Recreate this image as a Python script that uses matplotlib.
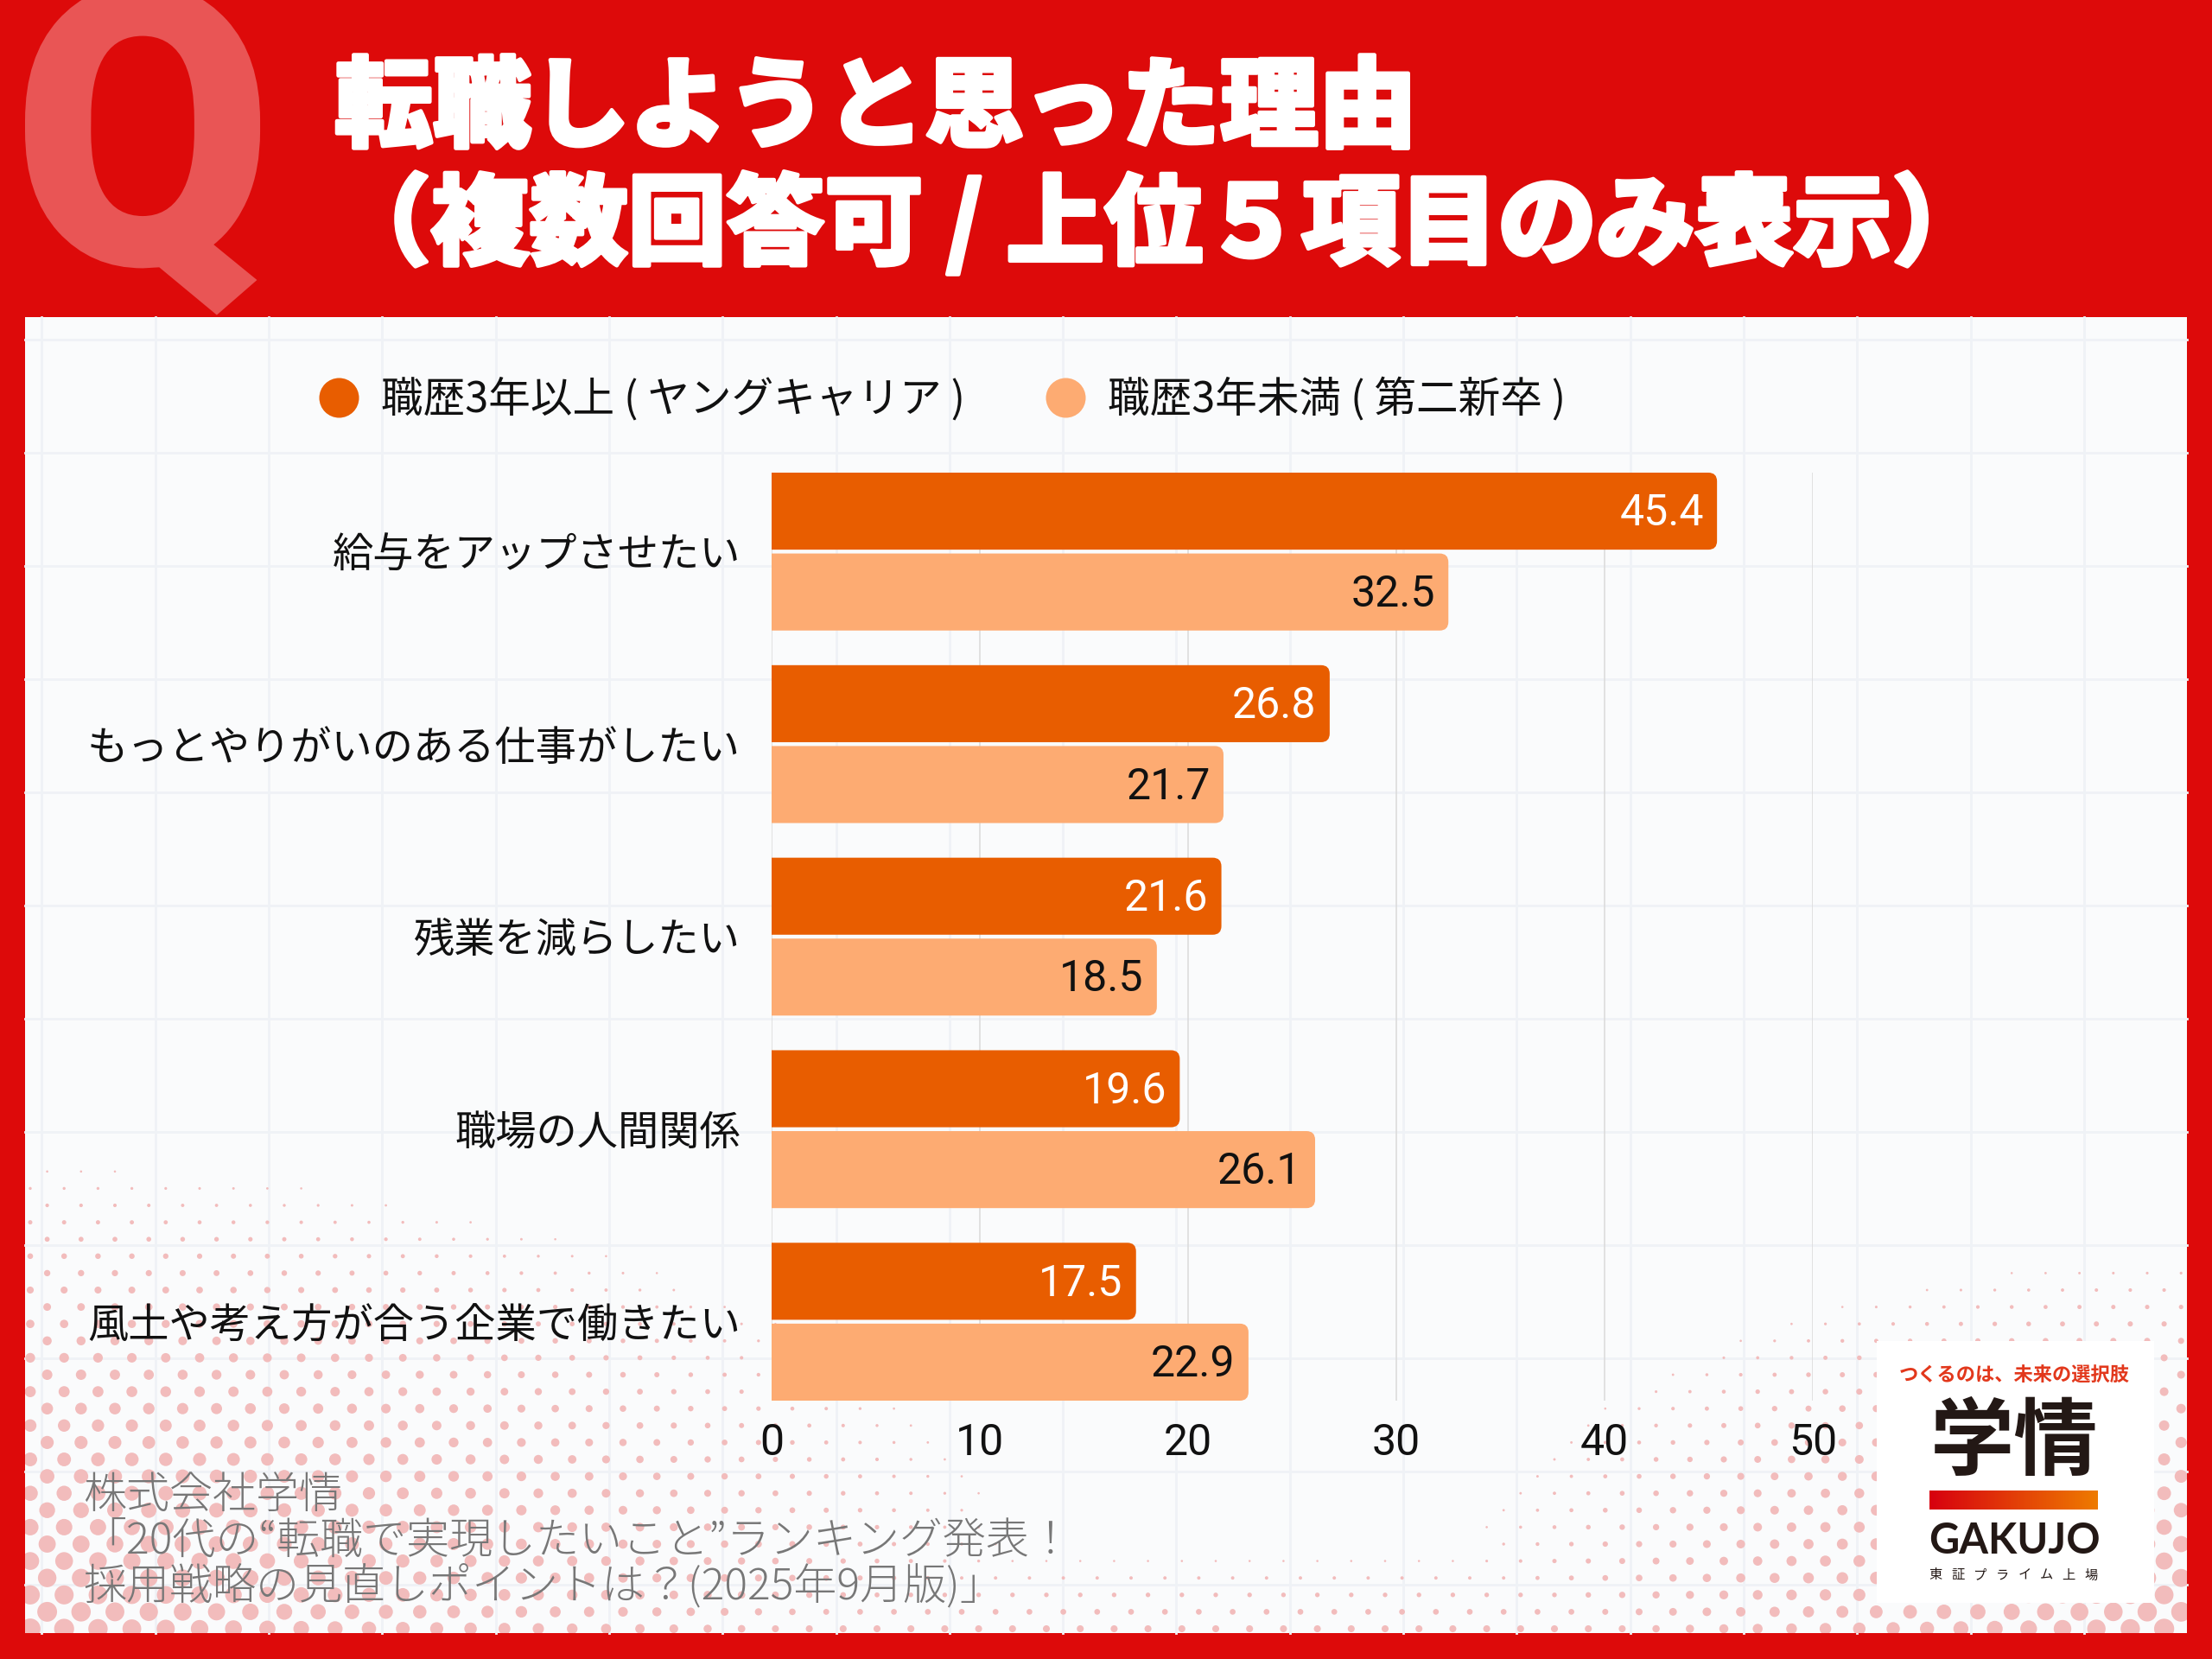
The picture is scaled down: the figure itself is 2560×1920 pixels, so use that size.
import numpy as np
import matplotlib
matplotlib.use("Agg")
import matplotlib.pyplot as plt
import matplotlib.patheffects as pe
from matplotlib.patches import FancyBboxPatch, Rectangle, PathPatch
from matplotlib.textpath import TextPath
from matplotlib.font_manager import FontProperties
from matplotlib.transforms import Affine2D
from matplotlib.colors import LinearSegmentedColormap

plt.rcParams["font.family"] = ["Noto Sans CJK JP", "DejaVu Sans"]

# data
categories = [
    "給与をアップさせたい",
    "もっとやりがいのある仕事がしたい",
    "残業を減らしたい",
    "職場の人間関係",
    "風土や考え方が合う企業で働きたい",
]
young_career = [45.4, 26.8, 21.6, 19.6, 17.5]
second_newgrad = [32.5, 21.7, 18.5, 26.1, 22.9]
series_names = ["職歴3年以上 ( ヤングキャリア )", "職歴3年未満 ( 第二新卒 )"]
xticks = [0, 10, 20, 30, 40, 50]

title_lines = ["転職しようと思った理由", "（複数回答可 / 上位５項目のみ表示）"]
source_lines = [
    "株式会社学情",
    "「20代の“転職で実現したいこと”ランキング発表！",
    "採用戦略の見直しポイントは？(2025年9月版)」",
]

RED = "#DD0A0A"
DARK = "#E85D00"
LIGHT = "#FDAB72"
NUM = ["Roboto", "Noto Sans CJK JP"]

W, H, DPI = 2560, 1920, 200
fig = plt.figure(figsize=(W / DPI, H / DPI), dpi=DPI)
fig.patch.set_facecolor(RED)

# background layer in pixel coords
bg = fig.add_axes([0, 0, 1, 1], zorder=0)
bg.axis("off")

# big Q
tp = TextPath((0, 0), "Q", size=1, prop=FontProperties(family="Roboto", weight="black"))
ext = tp.get_extents()
sy = 325 / ext.y1
sx = sy * 0.97
qtr = Affine2D().scale(sx, -sy).translate(29 - ext.x0 * sx, 306)
bg.add_patch(PathPatch(qtr.transform_path(tp), fc="#E95555", ec="none", zorder=0.5))

# white panel
panel = Rectangle((29, 367), 2502, 1523, fc="#FAFBFC", ec="none", zorder=1)
bg.add_patch(panel)

# graph paper lines
for gx in np.arange(2018 - 15 * 131.3, 2531, 131.3):
    if gx > 35:
        bg.plot([gx, gx], [367, 1890], color="#EFF2F6", lw=1.0, zorder=1.2)
for gy in np.arange(393, 1890, 131):
    bg.plot([29, 2531], [gy, gy], color="#EFF2F6", lw=1.0, zorder=1.2)

# halftone dots
dx, dy = 39.2, 19.6
px, py, pd = [], [], []
for j in range(80):
    y = 1885 - j * dy
    if y < 1150:
        break
    xs = np.arange(35 + (j % 2) * dx / 2, 2531, dx)
    left = 1 - np.hypot((xs - 29) / 1300, (1890 - y) / 600)
    right = 1 - np.hypot((2531 - xs) / 950, (1890 - y) / 480)
    band = 0.35 * (1 - (1890 - y) / 120)
    s = np.clip(np.maximum(np.maximum(left, right), band), 0, 1)
    d = 24 * s
    keep = d > 2.5
    px += list(xs[keep])
    py += [y] * int(keep.sum())
    pd += list(d[keep])
pd = np.array(pd)
sc = bg.scatter(px, py, s=(pd * 72 / DPI) ** 2, color="#F2BCBC", lw=0, zorder=1.5)
sc.set_clip_path(panel)

# title
thick = [pe.withStroke(linewidth=1.6, foreground="white")]
bg.text(387, 127, title_lines[0], color="white", fontsize=41, fontweight="black",
        va="center", ha="left", zorder=2, path_effects=thick)
bg.text(385, 261, title_lines[1], color="white", fontsize=41, fontweight="black",
        va="center", ha="left", zorder=2, path_effects=thick)

# legend
for cx, tx, col, name in [(392, 441, DARK, series_names[0]), (1233, 1282, LIGHT, series_names[1])]:
    bg.scatter([cx], [460], s=(46 * 72 / DPI) ** 2, color=col, lw=0, zorder=3)
    bg.text(tx, 462, name, fontsize=17.5, va="center", ha="left", color="#111111", zorder=3)

# source
for k, line in enumerate(source_lines):
    bg.text(96, 1731 + k * 53, line, fontsize=18, fontweight="light", color="#777777",
            va="center", ha="left", zorder=3)

# logo
bg.add_patch(Rectangle((2172, 1552), 321, 303, fc="white", ec="none", zorder=3))
bg.text(2331, 1592, "つくるのは、未来の選択肢", fontsize=8, fontweight="bold", color="#E2381C",
        ha="center", va="center", zorder=4)
bg.text(2331, 1670, "学情", fontsize=35, fontweight="bold", color="#231815",
        ha="center", va="center", zorder=4)
cmap = LinearSegmentedColormap.from_list("logo", ["#D7000F", "#EE7B00"])
bg.imshow(np.linspace(0, 1, 256).reshape(1, -1), extent=(2233, 2428, 1747, 1725),
          cmap=cmap, aspect="auto", zorder=4)
bg.text(2331, 1784, "GAKUJO", fontsize=17.5, fontweight="bold", family=["Lato", "DejaVu Sans"],
        color="#231815", ha="center", va="center", zorder=4)
for cx, ch in zip(np.linspace(2240, 2420, 8), "東証プライム上場"):
    bg.text(cx, 1823, ch, fontsize=5.5, color="#231815", ha="center", va="center", zorder=4)

bg.set_xlim(0, W)
bg.set_ylim(H, 0)

# chart axes
ax = fig.add_axes([893 / W, 1 - 1621 / H, (2098 - 893) / W, (1621 - 547) / H], zorder=5)
ax.patch.set_alpha(0)
ax.set_xlim(0, 50)
ax.set_ylim(4.41, -0.41)
for sp in ax.spines.values():
    sp.set_visible(False)
ax.set_xticks(xticks)
ax.grid(axis="x", color="#DCDCDC", lw=0.6)
ax.set_axisbelow(True)

ypos = np.arange(len(categories))
bh, off = 0.4, 0.21
x_pp = 50 / 1205
y_pp = 4.82 / 1074
for vals, col, o, tcol in [(young_career, DARK, -off, "white"), (second_newgrad, LIGHT, off, "#111111")]:
    for y, v in zip(ypos + o, vals):
        ax.add_patch(FancyBboxPatch((-1, y - bh / 2), v + 1, bh,
                                    boxstyle=f"round,pad=0,rounding_size={10 * x_pp}",
                                    mutation_aspect=y_pp / x_pp, fc=col, ec="none", zorder=2))
        ax.annotate(f"{v:.1f}", xy=(v, y + 0.012), xytext=(-5.5, 0), textcoords="offset points",
                    ha="right", va="center", fontsize=18, family=NUM, color=tcol, zorder=3)

ax.set_yticks(ypos, categories, fontsize=17, color="#111111")
ax.tick_params(axis="y", length=0, pad=13)
ax.tick_params(axis="x", length=0, pad=9, labelsize=18, labelcolor="#111111")
for lab in ax.get_xticklabels():
    lab.set_family(NUM)

fig.savefig("out.png", dpi=DPI, facecolor=fig.get_facecolor())
